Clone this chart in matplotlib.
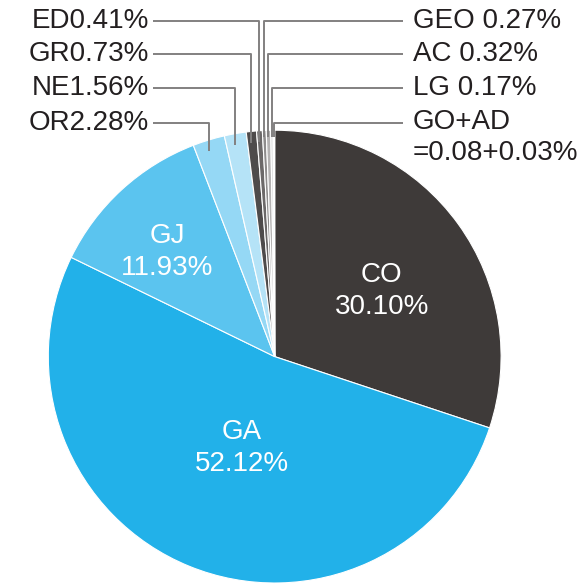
import matplotlib.pyplot as plt
import numpy as np

plt.rcParams['font.family'] = ['Liberation Sans', 'DejaVu Sans']

names = ['CO', 'GA', 'GJ', 'OR', 'NE', 'GR', 'ED', 'GEO', 'AC', 'LG', 'GO', 'AD']
shares = [30.10, 52.12, 11.93, 2.28, 1.56, 0.73, 0.41, 0.27, 0.32, 0.17, 0.08, 0.03]
colors = ['#3e3a39', '#22b1e9', '#5bc4ef', '#95d8f5', '#b5e3f7', '#4e4b4b',
          '#6c6969', '#8e8c8c', '#b4b2b2', '#dadada', '#9fd9f3', '#cdebf8']

inside = ['CO', 'GA', 'GJ']
inside_text = ['CO\n30.10%', 'GA\n52.12%', 'GJ\n11.93%']
left_labels = ['OR2.28%', 'NE1.56%', 'GR0.73%', 'ED0.41%']
right_labels = ['GEO 0.27%', 'AC 0.32%', 'LG 0.17%', 'GO+AD\n=0.08+0.03%']

W, H = 586, 585
fig = plt.figure(figsize=(W / 100, H / 100), dpi=100)
ax = fig.add_axes([0, 0, 1, 1])

cx, cy, r = 274.7, H - 356.6, 226.4
wedges, _ = ax.pie(shares, colors=colors, startangle=90, counterclock=False,
                   center=(cx, cy), radius=r, frame=True,
                   wedgeprops=dict(edgecolor='white', linewidth=0.8))
ax.set_xlim(0, W)
ax.set_ylim(0, H)
ax.axis('off')


def mid_angle(ws):
    t1 = min(w.theta1 for w in ws)
    t2 = max(w.theta2 for w in ws)
    return np.deg2rad((t1 + t2) / 2)


# labels inside the big slices (radius fraction, angle nudge in degrees)
placing = [(0.554, -4.5), (0.427, 2.4), (0.663, 3.3)]
for name, txt, (f, da) in zip(inside, inside_text, placing):
    a = mid_angle([wedges[names.index(name)]]) + np.deg2rad(da)
    ax.text(cx + f * r * np.cos(a), cy + f * r * np.sin(a), txt, color='white',
            fontsize=20, ha='center', va='center', linespacing=1.3)

line_kw = dict(color='#828080', lw=1.4, solid_capstyle='butt')
rows_y = [H - 123, H - 88, H - 54, H - 21]

# left side: OR, NE, GR, ED
for name, txt, y in zip(['OR', 'NE', 'GR', 'ED'], left_labels, rows_y):
    a = mid_angle([wedges[names.index(name)]])
    x0 = cx + r * np.cos(a)
    y0 = cy + 0.95 * r * np.sin(a)
    ax.plot([x0, x0, 153], [y0, y, y], **line_kw)
    ax.text(149, y, txt, fontsize=20, ha='right', va='center', color='#231f20')

# right side: GO+AD, LG, AC, GEO
groups = [['GO', 'AD'], ['LG'], ['AC'], ['GEO']]
for grp, txt, y in zip(groups, right_labels[::-1], rows_y):
    a = mid_angle([wedges[names.index(n)] for n in grp])
    x0 = cx + r * np.cos(a)
    y0 = cy + 0.97 * r * np.sin(a)
    ax.plot([x0, x0, 403], [y0, y, y], **line_kw)
    if '\n' in txt:
        ax.text(413, y + 14, txt, fontsize=20, ha='left', va='top',
                color='#231f20', linespacing=1.25)
    else:
        ax.text(413, y, txt, fontsize=20, ha='left', va='center', color='#231f20')

fig.savefig('out.png', dpi=100)
